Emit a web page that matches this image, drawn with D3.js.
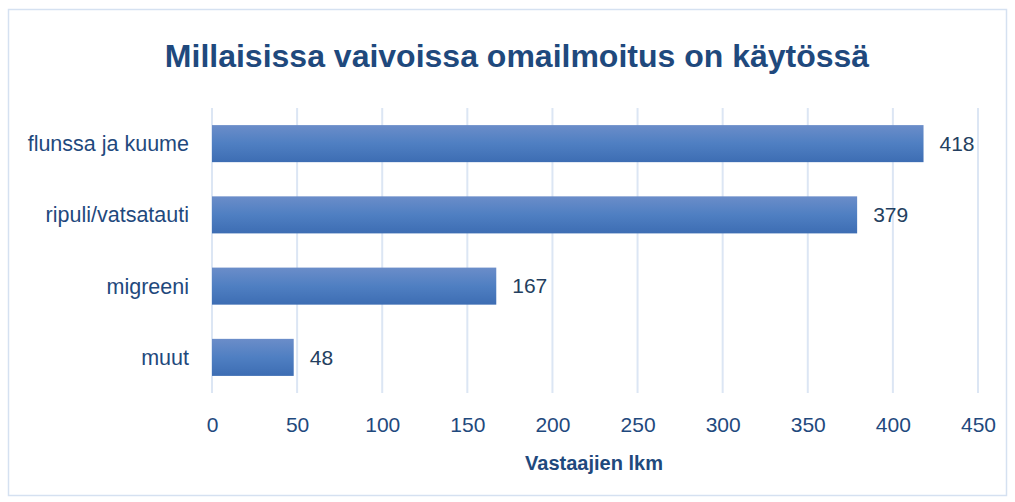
<!DOCTYPE html>
<html><head><meta charset="utf-8">
<script src="https://cdn.jsdelivr.net/npm/d3@7"></script>
<style>body{margin:0;background:#fff}</style>
</head><body>
<script>
const categories = ["flunssa ja kuume","ripuli/vatsatauti","migreeni","muut"];
const values = [418,379,167,48];
const tickValues = [0,50,100,150,200,250,300,350,400,450];
const title = "Millaisissa vaivoissa omailmoitus on käytössä";
const xTitle = "Vastaajien lkm";

const W=1015,H=502;
const svg=d3.select("body").append("svg").attr("width",W).attr("height",H);
const font="Liberation Sans, Arial, sans-serif";
const txt="#1f497d";

const defs=svg.append("defs");
const g=defs.append("linearGradient").attr("id","bg").attr("x1",0).attr("y1",0).attr("x2",0).attr("y2",1);
g.append("stop").attr("offset","0%").attr("stop-color","#6b8dc9");
g.append("stop").attr("offset","50%").attr("stop-color","#4f7fc2");
g.append("stop").attr("offset","100%").attr("stop-color","#3d6db3");

svg.append("rect").attr("x",8.5).attr("y",9.5).attr("width",998).attr("height",486)
  .attr("fill","#fff").attr("stroke","#d5e1f1").attr("stroke-width",1.5);

const x=d3.scaleLinear().domain([0,450]).range([212,978]);
const y=d3.scaleBand().domain(categories).range([108,393]).paddingInner(0.48).paddingOuter(0.24);

svg.append("g").selectAll("line").data(tickValues).join("line")
  .attr("x1",d=>x(d)).attr("x2",d=>x(d)).attr("y1",108).attr("y2",393)
  .attr("stroke","#dce6f4").attr("stroke-width",2);

svg.append("g").selectAll("rect").data(values).join("rect")
  .attr("x",x(0)).attr("y",(d,i)=>y(categories[i]))
  .attr("width",d=>x(d)-x(0)).attr("height",y.bandwidth())
  .attr("fill","url(#bg)");

svg.append("g").selectAll("text").data(values).join("text")
  .attr("x",d=>x(d)+16).attr("y",(d,i)=>y(categories[i])+y.bandwidth()/2)
  .attr("dy","0.35em").attr("font-family",font).attr("font-size",21).attr("fill","#243f60")
  .text(d=>d);

svg.append("g").selectAll("text").data(categories).join("text")
  .attr("x",189).attr("y",d=>y(d)+y.bandwidth()/2).attr("dy","0.35em")
  .attr("text-anchor","end").attr("font-family",font).attr("font-size",21.5).attr("fill",txt)
  .text(d=>d);

const ax=svg.append("g").attr("transform","translate(0,393)")
  .call(d3.axisBottom(x).tickValues(tickValues).tickSize(0).tickPadding(24));
ax.select(".domain").remove();
ax.selectAll("text").attr("font-family",font).attr("font-size",21).attr("fill",txt);

svg.append("text").attr("x",594).attr("y",470).attr("text-anchor","middle")
  .attr("font-family",font).attr("font-size",20).attr("font-weight","bold").attr("fill",txt)
  .text(xTitle);

svg.append("text").attr("x",517).attr("y",67).attr("text-anchor","middle")
  .attr("font-family",font).attr("font-size",32).attr("font-weight","bold").attr("fill",txt)
  .text(title);
</script>
</body></html>
